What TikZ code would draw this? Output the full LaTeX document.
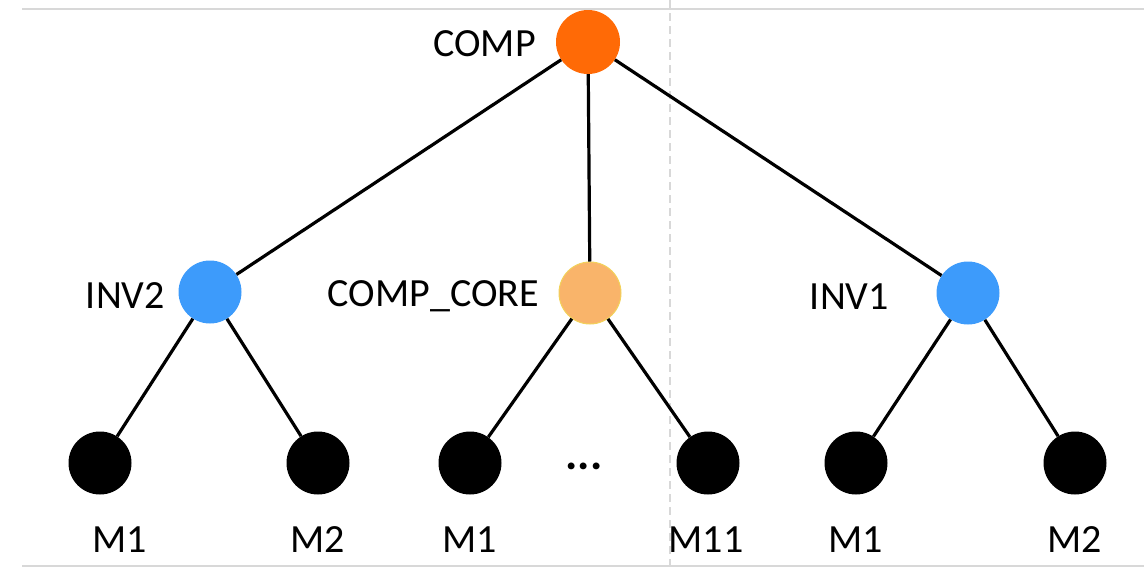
\documentclass[tikz,border=0pt]{standalone}
\usepackage{fontspec}
\setmainfont{Carlito}
\begin{document}
\begin{tikzpicture}[x=1pt,y=-1pt,
  lbl/.style={font=\fontsize{40}{48}\selectfont, inner sep=0pt},
  vtx/.style={circle, minimum size=63pt, inner sep=0pt},
  leaf/.style={vtx, fill=black},
  inv/.style={vtx, fill=invblue},
  edge/.style={line width=3.2pt, black}]
\definecolor{invblue}{HTML}{3D9BFB}
\definecolor{comporange}{HTML}{FF6A06}
\definecolor{corefill}{HTML}{F9B46A}
\definecolor{corering}{HTML}{F2D25A}
\definecolor{rule}{HTML}{D8D8D8}
\useasboundingbox (0,0) rectangle (1144,568);
% frame rules and divider
\draw[rule, line width=1.5pt] (22,9) -- (1144,9);
\draw[rule, line width=1.5pt] (22,566) -- (1144,566);
\draw[rule, line width=1.2pt, dash pattern=on 8pt off 5pt] (670,0) -- (670,568);
% vertices
\node[vtx, fill=comporange, minimum size=64pt] (comp) at (588,42) {};
\node[inv] (inv2) at (210,292) {};
\node[vtx, fill=corefill, draw=corering, line width=1pt, minimum size=62pt] (core) at (590,293) {};
\node[inv] (inv1) at (968,293) {};
\node[leaf] (a1) at (100,463) {};
\node[leaf] (a2) at (318,463) {};
\node[leaf] (b1) at (470,463) {};
\node[leaf] (b11) at (708,463) {};
\node[leaf] (c1) at (856,463) {};
\node[leaf] (c2) at (1075,463) {};
% connectors
\draw[edge] (comp) -- (inv2);
\draw[edge] (comp) -- (core);
\draw[edge] (comp) -- (inv1);
\draw[edge] (inv2) -- (a1);
\draw[edge] (inv2) -- (a2);
\draw[edge] (core) -- (b1);
\draw[edge] (core) -- (b11);
\draw[edge] (inv1) -- (c1);
\draw[edge] (inv1) -- (c2);
% labels
\node[lbl, anchor=east] (tcomp) at (536,44) {COMP};
\node[lbl, anchor=east] (tinv2) at (165,296) {INV2};
\node[lbl, anchor=east] (tcore) at (539,296) {COMP\_CORE};
\node[lbl, anchor=east] (tinv1) at (889,297) {INV1};
\node[lbl] (la1) at (120,540) {M1};
\node[lbl] (la2) at (318,540) {M2};
\node[lbl] (lb1) at (470,540) {M1};
\node[lbl] (lb11) at (706,540) {M11};
\node[lbl] (lc1) at (856,540) {M1};
\node[lbl] (lc2) at (1075,540) {M2};
\node[lbl, font=\fontsize{46}{52}\selectfont\bfseries] (dots) at (584,466) {...};
\end{tikzpicture}
\end{document}
